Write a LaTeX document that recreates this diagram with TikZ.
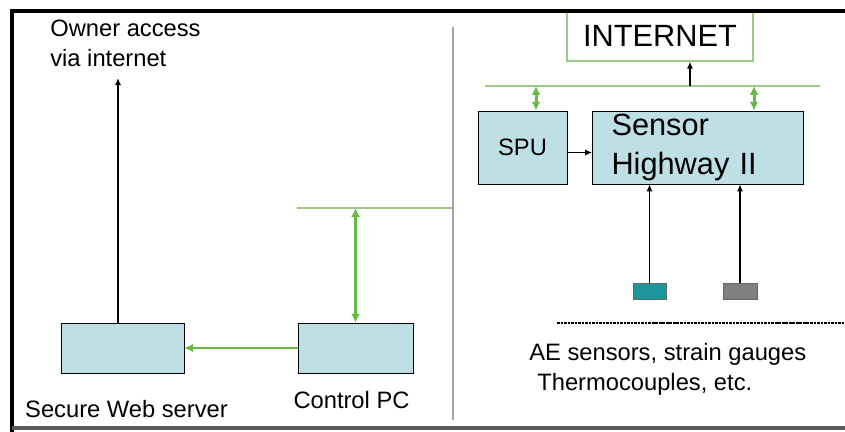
\documentclass[tikz,border=0pt]{standalone}
\usepackage{fontspec}
\setmainfont{Liberation Sans}
\usetikzlibrary{arrows.meta}
\definecolor{boxblue}{HTML}{BEE0E4}
\definecolor{busgreen}{HTML}{9ACD84}
\definecolor{linkgreen}{HTML}{66BB44}
\definecolor{probeteal}{HTML}{1E9599}
\definecolor{probegray}{HTML}{808080}
\begin{document}
\begin{tikzpicture}[
    x=0.02cm, y=-0.02cm,
    box/.style={rectangle, draw, fill=boxblue, inner sep=0pt, font=\fontsize{13.5}{17}\selectfont},
    txt/.style={inner sep=0pt, font=\fontsize{13.5}{17}\selectfont},
    big/.style={font=\fontsize{17.5}{22}\selectfont},
    bus/.style={busgreen, line width=0.7pt},
    link/.style={linkgreen, line width=1.7pt, arrows={Latex[length=5pt,width=5pt]-Latex[length=5pt,width=5pt]}},
    feed/.style={black, line width=0.9pt, -{Latex[length=4pt,width=3.5pt]}},
    probe/.style={rectangle, draw=black!60, minimum width=0.66cm, minimum height=0.32cm},
]
    \useasboundingbox (0,0) rectangle (845,432);

    % Left half: owner side
    \node[box, minimum width=2.46cm, minimum height=1cm] (web) at (122.5, 348) {};
    \node[box, minimum width=2.3cm, minimum height=1cm] (pc) at (355.5, 348) {};
    \node[txt, anchor=base] (weblabel) at (126.5, 417) {Secure Web server};
    \node[txt, anchor=base] (pclabel) at (351.5, 408) {Control PC};
    \node[txt, anchor=north west, align=left] (owner) at (50, 20) {Owner access\\via internet};
    \coordinate (ownerin) at (118, 78);
    \draw[feed] (web.north -| ownerin) -- (ownerin);

    \coordinate (busA) at (297, 208);
    \coordinate (busB) at (453, 208);
    \draw[bus] (busA) -- (busB);
    \draw[link] (pc.north) -- (pc.north |- busA);
    \draw[link, arrows={-Latex[length=5pt,width=5pt]}] (pc.west) -- (web.east);

    % Right half: bridge side
    \node[rectangle, draw=busgreen, line width=0.7pt, minimum width=3.72cm, minimum height=1cm, big] (inet) at (660, 36) {INTERNET};
    \coordinate (busC) at (485, 86);
    \coordinate (busD) at (820, 86);
    \draw[bus] (busC) -- (busD);
    \coordinate (tap) at (690, 86);
    \draw[feed] (tap) -- (tap |- inet.south);

    \node[box, minimum width=1.78cm, minimum height=1.46cm] (spu) at (522.5, 147.5) {SPU};
    \node[box, big, align=left, text width=3.46cm, inner xsep=0.38cm, minimum height=1.46cm] (sh) at (698, 147.5) {Sensor\\Highway II};
    \draw[feed] ([yshift=-0.1cm]spu.east) -- ([yshift=-0.1cm]sh.west);

    \coordinate (upA) at (536, 86);
    \coordinate (upB) at (754, 86);
    \draw[link] (upA) -- (upA |- spu.north);
    \draw[link] (upB) -- (upB |- sh.north);

    % Sensors
    \node[probe, fill=probeteal] (ae) at (649.5, 291) {};
    \node[probe, fill=probegray, minimum width=0.68cm] (gauge) at (740, 291) {};
    \draw[feed] (ae.north) -- (ae.north |- sh.south);
    \draw[feed] (gauge.north) -- (gauge.north |- sh.south);

    \coordinate (ruleL) at (557, 323);
    \coordinate (ruleR) at (845, 323);
    \draw[line width=1.2pt, dash pattern=on 1.5pt off 0.5pt] (ruleL) -- (ruleR);
    \node[txt, anchor=base west] (sensors) at (529, 360) {AE sensors, strain gauges};
    \node[txt, anchor=base west] (thermo) at (537, 390) {Thermocouples, etc.};

    % Frame and divider
    \coordinate (tl) at (12, 11);
    \coordinate (tr) at (845, 11);
    \coordinate (bl) at (12, 432);
    \coordinate (br) at (845, 428);
    \draw[line width=2.3pt] (tr) -- (tl) -- (bl);
    \draw[black!65, line width=2pt] (bl |- br) -- (br);
    \coordinate (divtop) at (453, 27);
    \coordinate (divbot) at (453, 420);
    \draw[gray!70, line width=0.6pt] (divtop) -- (divbot);
\end{tikzpicture}
\end{document}
